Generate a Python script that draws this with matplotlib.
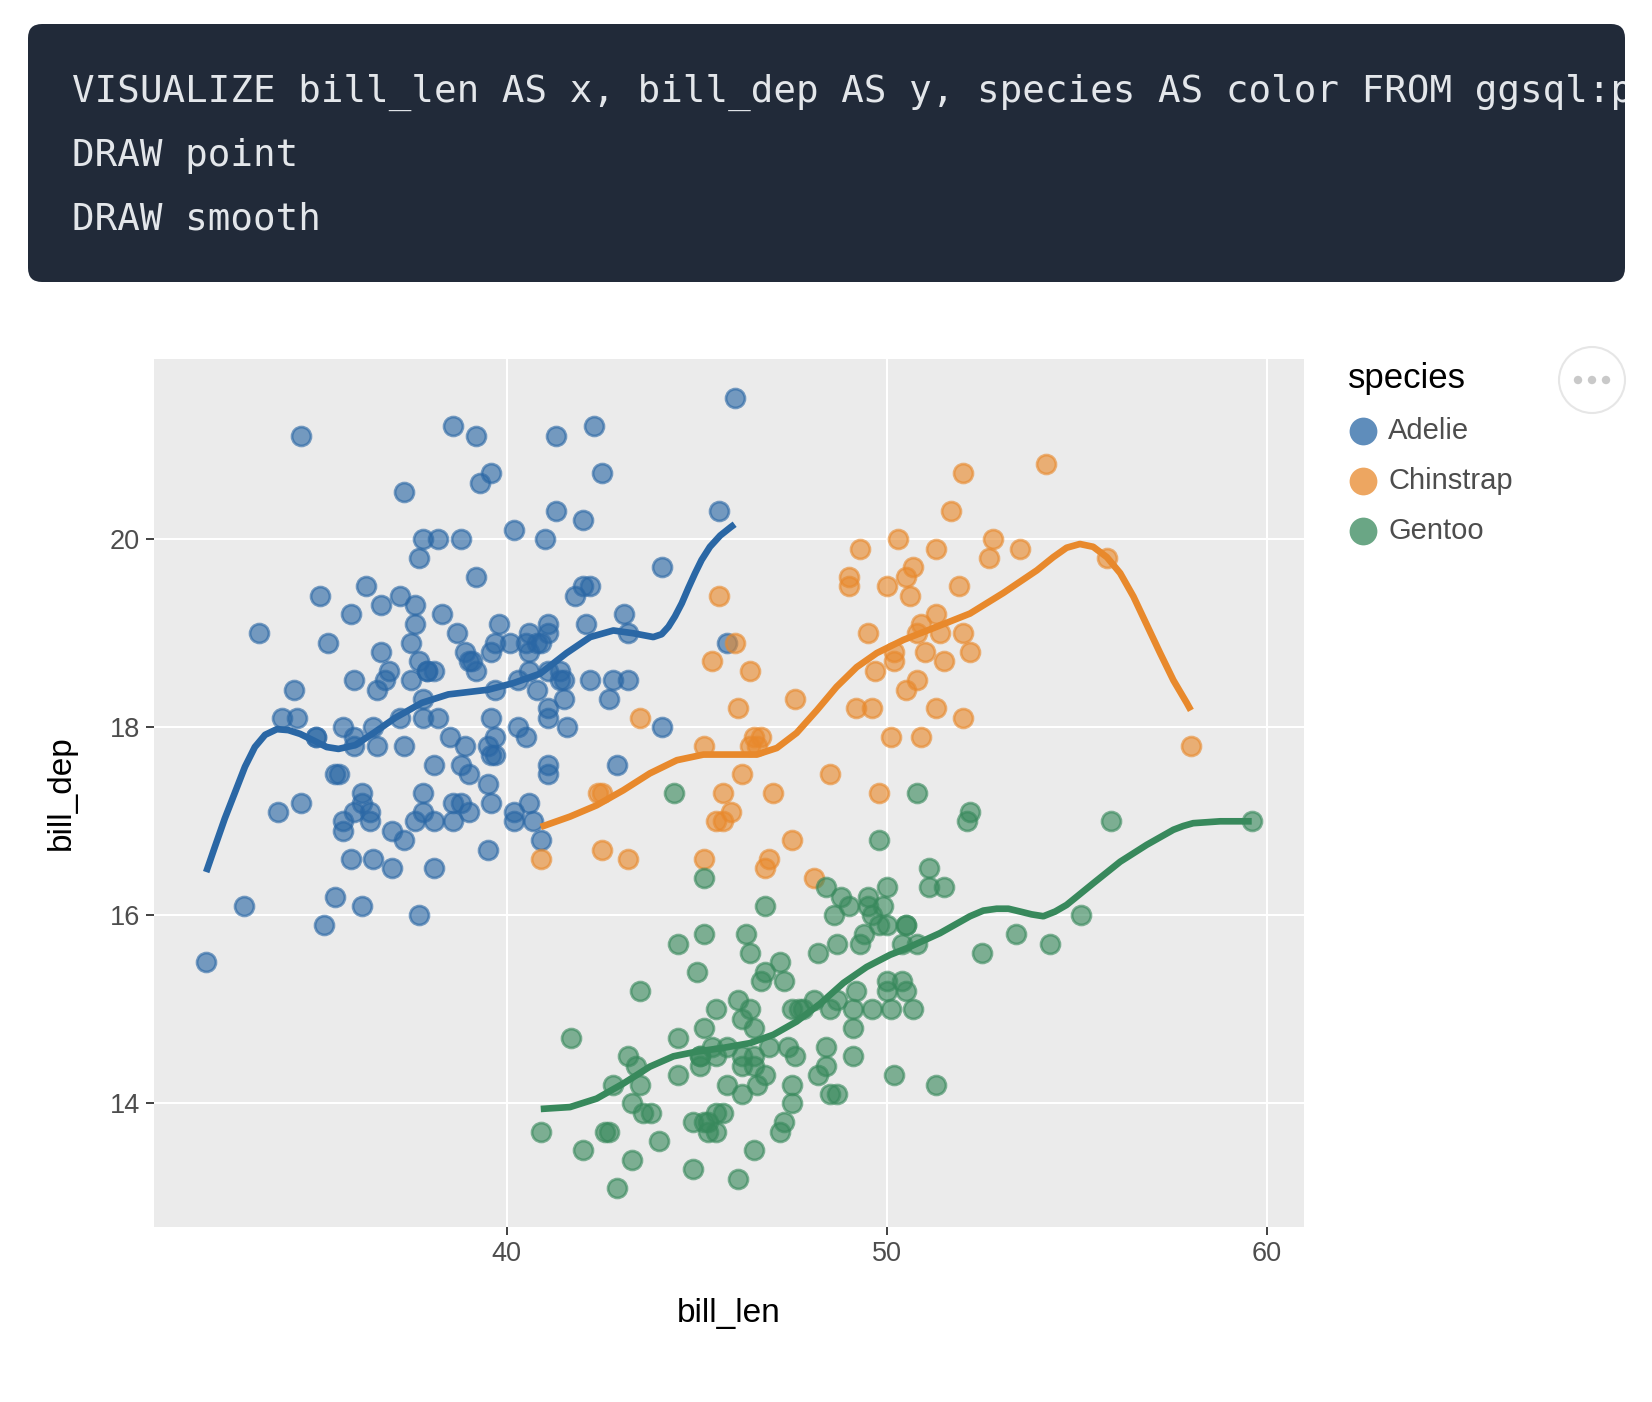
import matplotlib
matplotlib.use('Agg')
import matplotlib.pyplot as plt
from matplotlib.patches import FancyBboxPatch, Circle
from matplotlib.transforms import IdentityTransform, Bbox

#### DATA ####
species = ['Adelie', 'Chinstrap', 'Gentoo']

adelie_len = [39.1, 39.5, 40.3, 36.7, 39.3, 38.9, 39.2, 34.1, 42.0, 37.8, 37.8, 41.1, 38.6, 34.6, 36.6, 38.7,
              42.5, 34.4, 46.0, 37.8, 37.7, 35.9, 38.2, 38.8, 35.3, 40.6, 40.5, 37.9, 40.5, 39.5, 37.2, 39.5,
              40.9, 36.4, 39.2, 38.8, 42.2, 37.6, 39.8, 36.5, 40.8, 36.0, 44.1, 37.0, 39.6, 41.1, 37.5, 36.0,
              42.3, 39.6, 40.1, 35.0, 42.0, 34.5, 41.4, 39.0, 40.6, 36.5, 37.6, 35.7, 41.3, 37.6, 41.1, 36.4,
              41.6, 35.5, 41.1, 35.9, 41.8, 33.5, 39.7, 39.6, 45.8, 35.5, 42.8, 40.9, 37.2, 36.2, 42.1, 34.6,
              42.9, 36.7, 35.1, 37.3, 41.3, 36.3, 36.9, 38.3, 38.9, 35.7, 41.1, 34.0, 39.6, 36.2, 40.8, 38.1,
              40.3, 33.1, 43.2, 35.0, 41.0, 37.7, 37.8, 37.9, 39.7, 38.6, 38.2, 38.1, 43.2, 38.1, 45.6, 39.7,
              42.2, 39.6, 42.7, 38.6, 37.3, 35.7, 41.1, 36.2, 37.7, 40.2, 41.4, 35.2, 40.6, 38.8, 41.5, 39.0,
              44.1, 38.5, 43.1, 36.8, 37.5, 38.1, 41.1, 35.6, 40.2, 37.0, 39.7, 40.2, 40.6, 32.1, 40.7, 37.3,
              39.0, 39.2, 36.6, 36.0, 37.8, 36.0, 41.5]
adelie_dep = [18.7, 17.4, 18.0, 19.3, 20.6, 17.8, 19.6, 18.1, 20.2, 17.1, 17.3, 17.6, 21.2, 21.1, 17.8, 19.0,
              20.7, 18.4, 21.5, 18.3, 18.7, 19.2, 18.1, 17.2, 18.9, 18.6, 17.9, 18.6, 18.9, 16.7, 18.1, 17.8,
              18.9, 17.0, 21.1, 20.0, 18.5, 19.3, 19.1, 18.0, 18.4, 18.5, 19.7, 16.9, 18.8, 19.0, 18.9, 17.9,
              21.2, 17.7, 18.9, 17.9, 19.5, 18.1, 18.6, 17.5, 18.8, 16.6, 19.1, 16.9, 21.1, 17.0, 18.2, 17.1,
              18.0, 16.2, 19.1, 16.6, 19.4, 19.0, 18.4, 17.2, 18.9, 17.5, 18.5, 16.8, 19.4, 16.1, 19.1, 17.2,
              17.6, 18.8, 19.4, 17.8, 20.3, 19.5, 18.6, 19.2, 18.8, 18.0, 18.1, 17.1, 18.1, 17.3, 18.9, 18.6,
              18.5, 16.1, 18.5, 17.9, 20.0, 16.0, 20.0, 18.6, 18.9, 17.2, 20.0, 17.0, 19.0, 16.5, 20.3, 17.7,
              19.5, 20.7, 18.3, 17.0, 20.5, 17.0, 18.6, 17.2, 19.8, 17.0, 18.5, 15.9, 19.0, 17.6, 18.3, 17.1,
              18.0, 17.9, 19.2, 18.5, 18.5, 17.6, 17.5, 17.5, 20.1, 16.5, 17.9, 17.1, 17.2, 15.5, 17.0, 16.8,
              18.7, 18.6, 18.4, 17.8, 18.1, 17.1, 18.5]

chinstrap_len = [46.5, 50.0, 51.3, 45.4, 52.7, 45.2, 46.1, 51.3, 46.0, 51.3, 46.6, 51.7, 47.0, 52.0, 45.9, 50.5,
                 50.3, 58.0, 46.4, 49.2, 42.4, 48.5, 43.2, 50.6, 46.7, 52.0, 50.5, 49.5, 46.4, 52.8, 40.9, 54.2,
                 42.5, 51.0, 49.7, 47.5, 47.6, 52.0, 46.9, 53.5, 49.0, 46.2, 50.9, 45.5, 50.9, 50.8, 50.1, 49.0,
                 51.5, 49.8, 48.1, 51.4, 45.7, 50.7, 42.5, 52.2, 45.2, 49.3, 50.2, 45.6, 51.9, 46.8, 45.7, 55.8,
                 43.5, 49.6, 50.8, 50.2]
chinstrap_dep = [17.9, 19.5, 19.2, 18.7, 19.8, 17.8, 18.2, 18.2, 18.9, 19.9, 17.8, 20.3, 17.3, 18.1, 17.1, 19.6,
                 20.0, 17.8, 18.6, 18.2, 17.3, 17.5, 16.6, 19.4, 17.9, 19.0, 18.4, 19.0, 17.8, 20.0, 16.6, 20.8,
                 16.7, 18.8, 18.6, 16.8, 18.3, 20.7, 16.6, 19.9, 19.5, 17.5, 19.1, 17.0, 17.9, 18.5, 17.9, 19.6,
                 18.7, 17.3, 16.4, 19.0, 17.3, 19.7, 17.3, 18.8, 16.6, 19.9, 18.8, 19.4, 19.5, 16.5, 17.0, 19.8,
                 18.1, 18.2, 19.0, 18.7]

gentoo_len = [46.1, 50.0, 48.7, 50.0, 47.6, 46.5, 45.4, 46.7, 43.3, 46.8, 40.9, 49.0, 45.5, 48.4, 45.8, 49.3,
              42.0, 49.2, 46.2, 48.7, 50.2, 45.1, 46.5, 46.3, 42.9, 46.1, 44.5, 47.8, 48.2, 50.0, 47.3, 42.8,
              45.1, 59.6, 49.1, 48.4, 42.6, 44.4, 44.0, 48.7, 42.7, 49.6, 45.3, 49.6, 50.5, 43.6, 45.5, 50.5,
              44.9, 45.2, 46.6, 48.5, 45.1, 50.1, 46.5, 45.0, 43.8, 45.5, 43.2, 50.4, 45.3, 46.2, 45.7, 54.3,
              45.8, 49.8, 46.2, 49.5, 43.5, 50.7, 47.7, 46.4, 48.2, 46.5, 46.4, 48.6, 47.5, 51.1, 45.2, 45.2,
              49.1, 52.5, 47.4, 50.0, 44.9, 50.8, 43.4, 51.3, 47.5, 52.1, 47.5, 52.2, 45.5, 49.5, 44.5, 50.8,
              49.4, 46.9, 48.4, 51.1, 48.5, 55.9, 47.2, 49.1, 47.3, 46.8, 41.7, 53.4, 43.3, 48.1, 50.5, 49.8,
              43.5, 51.5, 46.2, 55.1, 44.5, 48.8, 47.2, 46.8, 50.4, 45.2, 49.9]
gentoo_dep = [13.2, 16.3, 14.1, 15.2, 14.5, 13.5, 14.6, 15.3, 13.4, 15.4, 13.7, 16.1, 13.7, 14.6, 14.6, 15.7,
              13.5, 15.2, 14.5, 15.1, 14.3, 14.5, 14.5, 15.8, 13.1, 15.1, 14.3, 15.0, 14.3, 15.3, 15.3, 14.2,
              14.5, 17.0, 14.8, 16.3, 13.7, 17.3, 13.6, 15.7, 13.7, 16.0, 13.7, 15.0, 15.9, 13.9, 13.9, 15.9,
              13.3, 15.8, 14.2, 14.1, 14.4, 15.0, 14.4, 15.4, 13.9, 15.0, 14.5, 15.3, 13.8, 14.9, 13.9, 15.7,
              14.2, 16.8, 14.4, 16.2, 14.2, 15.0, 15.0, 15.6, 15.6, 14.8, 15.0, 16.0, 14.2, 16.3, 13.8, 16.4,
              14.5, 15.6, 14.6, 15.9, 13.8, 17.3, 14.4, 14.2, 14.0, 17.0, 15.0, 17.1, 14.5, 16.1, 14.7, 15.7,
              15.8, 14.6, 14.4, 16.5, 15.0, 17.0, 15.5, 15.0, 13.8, 16.1, 14.7, 15.8, 14.0, 15.1, 15.2, 15.9,
              15.2, 16.3, 14.1, 16.0, 15.7, 16.2, 13.7, 14.3, 15.7, 14.8, 16.1]

# smooth curves
adelie_smooth_x = [32.1, 32.33, 32.59, 32.86, 33.12, 33.38, 33.65, 33.96, 34.26, 34.57, 34.92, 35.27, 35.58,
                   36.02, 36.54, 37.07, 37.77, 38.47, 39.52, 40.18, 40.88, 41.58, 42.2, 42.81, 43.34, 43.86,
                   44.08, 44.26, 44.43, 44.61, 44.78, 44.96, 45.13, 45.35, 45.62, 45.9, 46.0]
adelie_smooth_y = [16.46, 16.73, 17.03, 17.31, 17.58, 17.79, 17.92, 17.98, 17.97, 17.93, 17.86, 17.79, 17.77,
                   17.81, 17.95, 18.10, 18.26, 18.35, 18.40, 18.47, 18.57, 18.79, 18.96, 19.03, 19.0, 18.96,
                   18.99, 19.07, 19.18, 19.32, 19.48, 19.64, 19.78, 19.92, 20.04, 20.13, 20.16]
chinstrap_smooth_x = [40.9, 41.67, 42.37, 43.07, 43.77, 44.48, 45.18, 45.88, 46.58, 47.11, 47.63, 48.16, 48.68,
                      49.21, 49.74, 50.44, 51.32, 52.19, 53.07, 53.51, 53.95, 54.38, 54.73, 55.08, 55.43, 55.79,
                      56.14, 56.49, 56.84, 57.19, 57.54, 57.89, 58.0]
chinstrap_smooth_y = [16.94, 17.05, 17.17, 17.33, 17.51, 17.65, 17.71, 17.71, 17.71, 17.78, 17.94, 18.18, 18.43,
                      18.64, 18.79, 18.93, 19.07, 19.21, 19.43, 19.55, 19.67, 19.81, 19.91, 19.95, 19.92, 19.81,
                      19.64, 19.39, 19.09, 18.79, 18.50, 18.26, 18.18]
gentoo_smooth_x = [40.9, 41.67, 42.37, 43.07, 43.77, 44.39, 45.0, 45.70, 46.40, 47.02, 47.63, 48.25, 48.86, 49.47,
                   50.09, 50.53, 51.40, 52.19, 52.54, 52.89, 53.2, 53.51, 53.81, 54.12, 54.43, 54.73, 55.43,
                   56.14, 56.84, 57.54, 57.8, 58.06, 58.77, 59.6]
gentoo_smooth_y = [13.94, 13.96, 14.05, 14.21, 14.39, 14.50, 14.55, 14.59, 14.64, 14.73, 14.87, 15.06, 15.28, 15.45,
                   15.58, 15.65, 15.81, 15.99, 16.05, 16.07, 16.07, 16.04, 16.01, 15.99, 16.04, 16.11, 16.34,
                   16.57, 16.75, 16.91, 16.95, 16.98, 17.00, 17.00]

x_ticks = [40, 50, 60]
y_ticks = [14, 16, 18, 20]

code_lines = ['VISUALIZE bill_len AS x, bill_dep AS y, species AS color FROM ggsql:penguins',
              'DRAW point',
              'DRAW smooth']

#### END ####

colors = ['#2a67a5', '#e8892c', '#38895c']
points = [(adelie_len, adelie_dep), (chinstrap_len, chinstrap_dep), (gentoo_len, gentoo_dep)]
smooths = [(adelie_smooth_x, adelie_smooth_y), (chinstrap_smooth_x, chinstrap_smooth_y),
           (gentoo_smooth_x, gentoo_smooth_y)]

plt.rcParams['font.family'] = ['Liberation Sans', 'DejaVu Sans']

W, H = 1652, 1402
fig = plt.figure(figsize=(W / 100, H / 100), dpi=100)

#code block at the top, the long first line is cut at the box edge like in the page
box = FancyBboxPatch((28, H - 282), 1597, 258, boxstyle='round,pad=0,rounding_size=14',
                     transform=IdentityTransform(), facecolor='#212a39', edgecolor='none')
fig.add_artist(box)
clip = Bbox.from_extents(28, 0, 1625, H)
for i, line in enumerate(code_lines):
    t = fig.text(72 / W, 1 - (92 + i * 64) / H, line, family='DejaVu Sans Mono', fontsize=27,
                 color='#e3e6ea', va='center', ha='left')
    t.set_clip_box(clip)
    t.set_clip_on(True)

#plot panel
ax = fig.add_axes([153.9 / W, 1 - 1227.4 / H, (1304 - 153.9) / W, (1227.4 - 358.8) / H])
ax.set_facecolor('#ebebeb')
for s in ax.spines.values():
    s.set_visible(False)
ax.grid(True, color='white', linewidth=1.5)
ax.set_axisbelow(True)

for (px, py), c in zip(points, colors):
    ax.scatter(px, py, s=185, facecolor=c, edgecolor=c, linewidths=2.0, alpha=0.62, zorder=2)

for (sx, sy), c in zip(smooths, colors):
    ax.plot(sx, sy, color=c, linewidth=4.8, solid_capstyle='butt', solid_joinstyle='round', zorder=3)

ax.set_xlim(30.725, 60.975)
ax.set_ylim(12.68, 21.92)
ax.set_xticks(x_ticks)
ax.set_yticks(y_ticks)
ax.tick_params(length=6, width=1.3, color='#333333', labelcolor='#4d4d4d', labelsize=19.5, pad=4)

ax.set_xlabel('bill_len', fontsize=24, color='black')
ax.xaxis.label.set_va('center')
ax.xaxis.set_label_coords(0.5, -0.0997)
ax.set_ylabel('bill_dep', fontsize=24, color='black')
ax.yaxis.label.set_va('center')
ax.yaxis.set_label_coords(-0.0808, 0.5)

#legend
fig.text(1348 / W, 1 - 388 / H, 'species', fontsize=25, color='black', va='baseline', ha='left')
for i, (name, c) in enumerate(zip(species, colors)):
    yy = 1 - (430.7 + i * 50.2) / H
    fig.add_artist(plt.Line2D([1362.7 / W], [yy], marker='o', markersize=20, markerfacecolor=c,
                              markeredgecolor='none', alpha=0.75, transform=fig.transFigure))
    fig.text(1388 / W, yy, name, fontsize=21, color='#4d4d4d', va='center', ha='left')

#little menu button
fig.add_artist(Circle((1592, H - 380), 33, transform=IdentityTransform(), facecolor='white',
                      edgecolor='#e6e6e6', linewidth=1.5))
for dx in [-14, 0, 14]:
    fig.add_artist(Circle((1592 + dx, H - 380), 4.2, transform=IdentityTransform(),
                          facecolor='#c9c9c9', edgecolor='none'))

fig.savefig('out.png', dpi=100)
